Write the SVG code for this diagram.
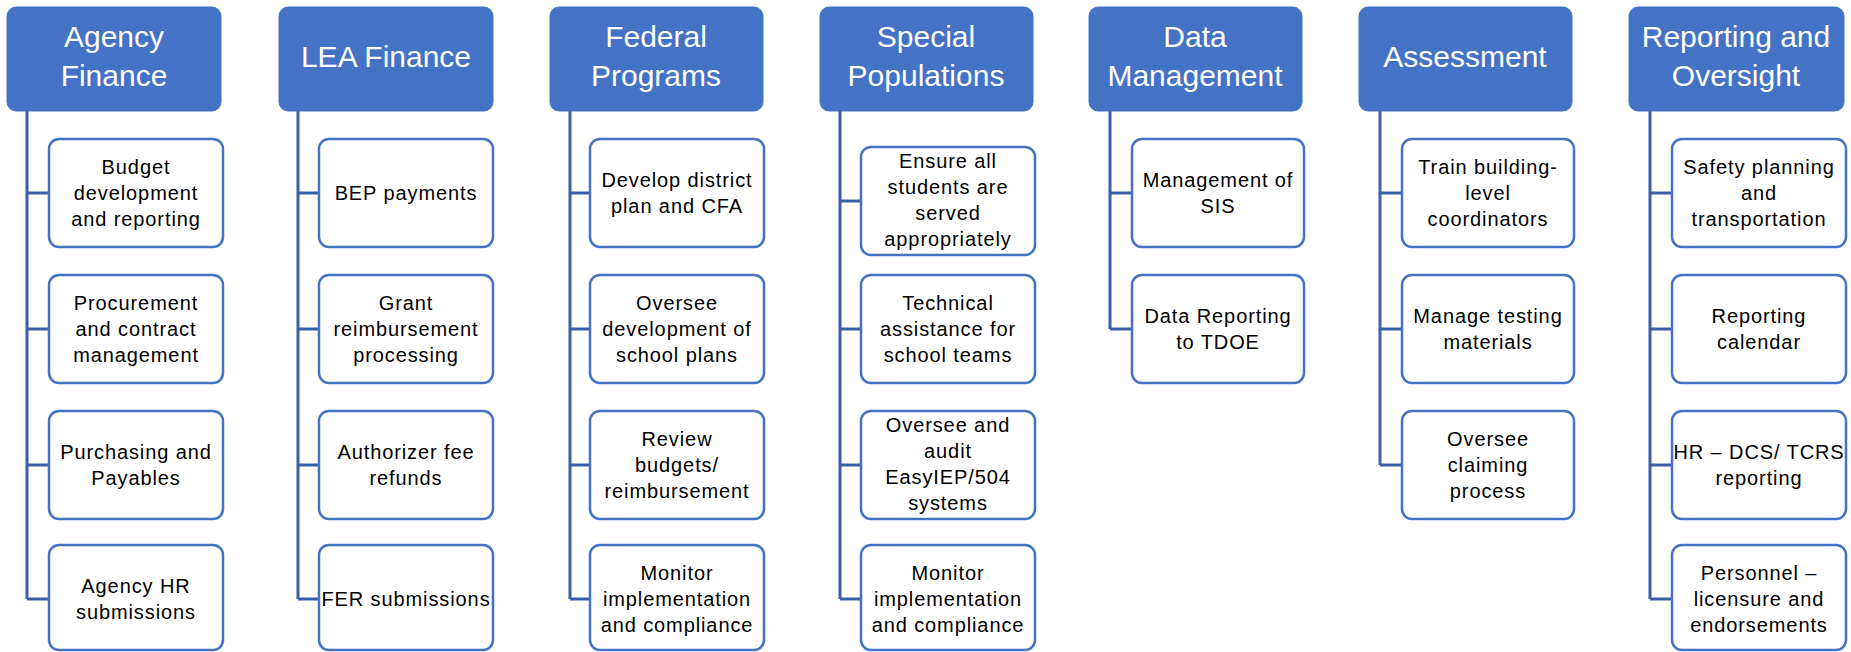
<svg xmlns="http://www.w3.org/2000/svg" width="1851" height="652" viewBox="0 0 1851 652">
<style>
.hdr{fill:#4472C4;stroke:#4472C4;stroke-width:1}
.ht{fill:#FFFFFF;font-family:"Liberation Sans",Arial,sans-serif;font-size:30px;text-anchor:middle}
.box{fill:#FFFFFF;stroke:#4472C4;stroke-width:2.5}
.bt{fill:#000000;font-family:"Liberation Sans",Arial,sans-serif;font-size:20px;letter-spacing:0.9px;text-anchor:middle}
.con{fill:none;stroke:#3A5FA8;stroke-width:3}
</style>
<rect width="1851" height="652" fill="#FFFFFF"/>
<g id="connectors">
<path class="con" d="M27,111 V599 M27,193 H49 M27,329 H49 M27,465 H49 M27,599 H49"/>
<path class="con" d="M298,111 V599 M298,193 H319 M298,329 H319 M298,465 H319 M298,599 H319"/>
<path class="con" d="M570,111 V599 M570,193 H590 M570,329 H590 M570,465 H590 M570,599 H590"/>
<path class="con" d="M840,111 V599 M840,201 H861 M840,329 H861 M840,465 H861 M840,599 H861"/>
<path class="con" d="M1110,111 V329 M1110,193 H1132 M1110,329 H1132"/>
<path class="con" d="M1380,111 V465 M1380,193 H1402 M1380,329 H1402 M1380,465 H1402"/>
<path class="con" d="M1650,111 V599 M1650,193 H1672 M1650,329 H1672 M1650,465 H1672 M1650,599 H1672"/>
</g>
<g id="agency-finance">
<rect class="hdr" x="7" y="7" width="214" height="104" rx="9"/>
<text class="ht" x="114" y="47">Agency</text><text class="ht" x="114" y="86">Finance</text>
</g>
<g id="af-1"><rect class="box" x="49" y="139" width="174" height="108" rx="10"/><text class="bt" x="136" y="174">Budget</text><text class="bt" x="136" y="200">development</text><text class="bt" x="136" y="226">and reporting</text></g>
<g id="af-2"><rect class="box" x="49" y="275" width="174" height="108" rx="10"/><text class="bt" x="136" y="310">Procurement</text><text class="bt" x="136" y="336">and contract</text><text class="bt" x="136" y="362">management</text></g>
<g id="af-3"><rect class="box" x="49" y="411" width="174" height="108" rx="10"/><text class="bt" x="136" y="459">Purchasing and</text><text class="bt" x="136" y="485">Payables</text></g>
<g id="af-4"><rect class="box" x="49" y="545" width="174" height="105" rx="10"/><text class="bt" x="136" y="593">Agency HR</text><text class="bt" x="136" y="619">submissions</text></g>

<g id="lea-finance">
<rect class="hdr" x="279" y="7" width="214" height="104" rx="9"/>
<text class="ht" x="386" y="67">LEA Finance</text>
</g>
<g id="lf-1"><rect class="box" x="319" y="139" width="174" height="108" rx="10"/><text class="bt" x="406" y="200">BEP payments</text></g>
<g id="lf-2"><rect class="box" x="319" y="275" width="174" height="108" rx="10"/><text class="bt" x="406" y="310">Grant</text><text class="bt" x="406" y="336">reimbursement</text><text class="bt" x="406" y="362">processing</text></g>
<g id="lf-3"><rect class="box" x="319" y="411" width="174" height="108" rx="10"/><text class="bt" x="406" y="459">Authorizer fee</text><text class="bt" x="406" y="485">refunds</text></g>
<g id="lf-4"><rect class="box" x="319" y="545" width="174" height="105" rx="10"/><text class="bt" x="406" y="606">FER submissions</text></g>

<g id="federal-programs">
<rect class="hdr" x="550" y="7" width="213" height="104" rx="9"/>
<text class="ht" x="656" y="47">Federal</text><text class="ht" x="656" y="86">Programs</text>
</g>
<g id="fp-1"><rect class="box" x="590" y="139" width="174" height="108" rx="10"/><text class="bt" x="677" y="187">Develop district</text><text class="bt" x="677" y="213">plan and CFA</text></g>
<g id="fp-2"><rect class="box" x="590" y="275" width="174" height="108" rx="10"/><text class="bt" x="677" y="310">Oversee</text><text class="bt" x="677" y="336">development of</text><text class="bt" x="677" y="362">school plans</text></g>
<g id="fp-3"><rect class="box" x="590" y="411" width="174" height="108" rx="10"/><text class="bt" x="677" y="446">Review</text><text class="bt" x="677" y="472">budgets/</text><text class="bt" x="677" y="498">reimbursement</text></g>
<g id="fp-4"><rect class="box" x="590" y="545" width="174" height="105" rx="10"/><text class="bt" x="677" y="580">Monitor</text><text class="bt" x="677" y="606">implementation</text><text class="bt" x="677" y="632">and compliance</text></g>

<g id="special-populations">
<rect class="hdr" x="820" y="7" width="213" height="104" rx="9"/>
<text class="ht" x="926" y="47">Special</text><text class="ht" x="926" y="86">Populations</text>
</g>
<g id="sp-1"><rect class="box" x="861" y="147" width="174" height="108" rx="10"/><text class="bt" x="948" y="168">Ensure all</text><text class="bt" x="948" y="194">students are</text><text class="bt" x="948" y="220">served</text><text class="bt" x="948" y="246">appropriately</text></g>
<g id="sp-2"><rect class="box" x="861" y="275" width="174" height="108" rx="10"/><text class="bt" x="948" y="310">Technical</text><text class="bt" x="948" y="336">assistance for</text><text class="bt" x="948" y="362">school teams</text></g>
<g id="sp-3"><rect class="box" x="861" y="411" width="174" height="108" rx="10"/><text class="bt" x="948" y="432">Oversee and</text><text class="bt" x="948" y="458">audit</text><text class="bt" x="948" y="484">EasyIEP/504</text><text class="bt" x="948" y="510">systems</text></g>
<g id="sp-4"><rect class="box" x="861" y="545" width="174" height="105" rx="10"/><text class="bt" x="948" y="580">Monitor</text><text class="bt" x="948" y="606">implementation</text><text class="bt" x="948" y="632">and compliance</text></g>

<g id="data-management">
<rect class="hdr" x="1089" y="7" width="213" height="104" rx="9"/>
<text class="ht" x="1195" y="47">Data</text><text class="ht" x="1195" y="86">Management</text>
</g>
<g id="dm-1"><rect class="box" x="1132" y="139" width="172" height="108" rx="10"/><text class="bt" x="1218" y="187">Management of</text><text class="bt" x="1218" y="213">SIS</text></g>
<g id="dm-2"><rect class="box" x="1132" y="275" width="172" height="108" rx="10"/><text class="bt" x="1218" y="323">Data Reporting</text><text class="bt" x="1218" y="349">to TDOE</text></g>

<g id="assessment">
<rect class="hdr" x="1359" y="7" width="213" height="104" rx="9"/>
<text class="ht" x="1465" y="67">Assessment</text>
</g>
<g id="as-1"><rect class="box" x="1402" y="139" width="172" height="108" rx="10"/><text class="bt" x="1488" y="174">Train building-</text><text class="bt" x="1488" y="200">level</text><text class="bt" x="1488" y="226">coordinators</text></g>
<g id="as-2"><rect class="box" x="1402" y="275" width="172" height="108" rx="10"/><text class="bt" x="1488" y="323">Manage testing</text><text class="bt" x="1488" y="349">materials</text></g>
<g id="as-3"><rect class="box" x="1402" y="411" width="172" height="108" rx="10"/><text class="bt" x="1488" y="446">Oversee</text><text class="bt" x="1488" y="472">claiming</text><text class="bt" x="1488" y="498">process</text></g>

<g id="reporting-oversight">
<rect class="hdr" x="1629" y="7" width="215" height="104" rx="9"/>
<text class="ht" x="1736" y="47">Reporting and</text><text class="ht" x="1736" y="86">Oversight</text>
</g>
<g id="ro-1"><rect class="box" x="1672" y="139" width="174" height="108" rx="10"/><text class="bt" x="1759" y="174">Safety planning</text><text class="bt" x="1759" y="200">and</text><text class="bt" x="1759" y="226">transportation</text></g>
<g id="ro-2"><rect class="box" x="1672" y="275" width="174" height="108" rx="10"/><text class="bt" x="1759" y="323">Reporting</text><text class="bt" x="1759" y="349">calendar</text></g>
<g id="ro-3"><rect class="box" x="1672" y="411" width="174" height="108" rx="10"/><text class="bt" x="1759" y="459">HR – DCS/ TCRS</text><text class="bt" x="1759" y="485">reporting</text></g>
<g id="ro-4"><rect class="box" x="1672" y="545" width="174" height="105" rx="10"/><text class="bt" x="1759" y="580">Personnel –</text><text class="bt" x="1759" y="606">licensure and</text><text class="bt" x="1759" y="632">endorsements</text></g>
</svg>
